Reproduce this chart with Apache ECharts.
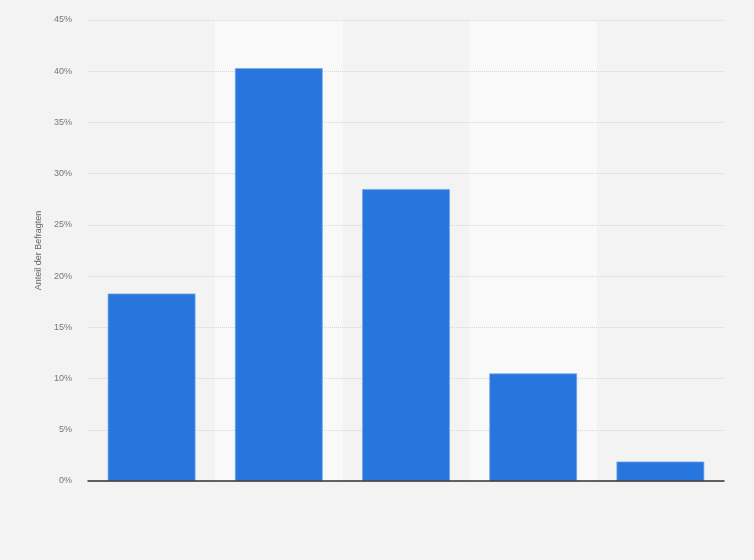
<!DOCTYPE html>
<html>
<head>
<meta charset="utf-8">
<script src="https://cdn.jsdelivr.net/npm/echarts@6/dist/echarts.min.js"></script>
<style>
  html, body { margin: 0; padding: 0; background: #f3f3f3; }
  #chart { width: 754px; height: 560px; }
</style>
</head>
<body>
<div id="chart"></div>
<script>
// Kategorien (keine Beschriftung im Original sichtbar)
var categories = ['1', '2', '3', '4', '5'];
// Anteil der Befragten in %
var values = [18.3, 40.3, 28.5, 10.5, 1.9];
var yTicks = [0, 5, 10, 15, 20, 25, 30, 35, 40, 45];

var myChart = echarts.init(document.getElementById('chart'));
var option = {
    backgroundColor: '#f3f3f3',
    animation: false,
    grid: { left: 88, right: 30, top: 20, bottom: 79 },
    xAxis: [{
        // Hauptachse: nur die dunkle Grundlinie, über den Gitterlinien
        type: 'category',
        data: categories,
        z: 3,
        axisLine: { lineStyle: { color: '#333', width: 1.5 } },
        axisTick: { show: false },
        axisLabel: { show: false }
    }, {
        // Hilfsachse nur für die hellen Streifen im Hintergrund
        type: 'category',
        data: categories,
        position: 'bottom',
        z: 0,
        axisLine: { show: false },
        axisTick: { show: false },
        axisLabel: { show: false },
        splitArea: { show: true, areaStyle: { color: ['rgba(0,0,0,0)', '#f9f9f9'] } }
    }],
    yAxis: {
        type: 'value',
        z: 1,
        min: yTicks[0],
        max: yTicks[yTicks.length - 1],
        interval: 5,
        name: 'Anteil der Befragten',
        nameLocation: 'middle',
        nameGap: 44,
        nameTextStyle: { color: '#666', fontSize: 9, fontFamily: 'Arial, Liberation Sans' },
        axisLine: { show: false },
        axisTick: { show: false },
        axisLabel: {
            color: '#777', fontSize: 9, margin: 16,
            fontFamily: 'Arial, Liberation Sans',
            formatter: '{value}%'
        },
        splitLine: { lineStyle: { color: '#d6d6d6', type: [1, 1] } }
    },
    series: [{
        type: 'bar',
        z: 2,
        data: values,
        barWidth: '69%',
        itemStyle: { color: '#2876dd', borderColor: '#7aa9ea', borderWidth: 0.7 }
    }]
};
myChart.setOption(option);
</script>
</body>
</html>
